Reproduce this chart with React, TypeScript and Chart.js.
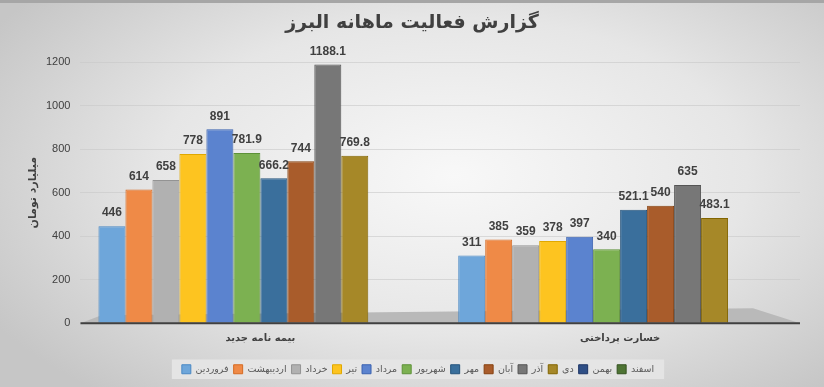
import React, { useEffect, useRef } from "react";
import { Chart, registerables } from "chart.js";

Chart.register(...registerables);

const TITLE = "گزارش فعالیت ماهانه البرز";
const Y_TITLE = "میلیارد تومان";
const categories = ["بیمه نامه جدید", "خسارت پرداختی"];
const months = ["فروردین", "اردیبهشت", "خرداد", "تیر", "مرداد", "شهریور", "مهر", "آبان", "آذر", "دی", "بهمن", "اسفند"];

const farvardin = [446, 311];
const ordibehesht = [614, 385];
const khordad = [658, 359];
const tir = [778, 378];
const mordad = [891, 397];
const shahrivar = [781.9, 340];
const mehr = [666.2, 521.1];
const aban = [744, 540];
const azar = [1188.1, 635];
const dey = [769.8, 483.1];
const bahman: (number | null)[] = [null, null];
const esfand: (number | null)[] = [null, null];

const seriesValues = [farvardin, ordibehesht, khordad, tir, mordad, shahrivar, mehr, aban, azar, dey, bahman, esfand];

const fills = ["#6ea6da", "#ef8a47", "#b1b1b1", "#fdc420", "#5b83cf", "#7cb151", "#3a6f9c", "#a95c2b", "#777777", "#a68828", "#2f4f86", "#4e7434"];
const borders = ["#4a88c4", "#d56a22", "#939393", "#e0a800", "#3a62b0", "#5d9138", "#24537c", "#86400f", "#555555", "#826500", "#1c3566", "#345220"];

const yTicks = [0, 200, 400, 600, 800, 1000, 1200];

const numFont = "'Liberation Sans Narrow', 'Liberation Sans', Arial, sans-serif";
const faFont = "'DejaVu Sans', 'Noto Sans', sans-serif";

export default function App() {
  const ref = useRef<HTMLCanvasElement | null>(null);
  useEffect(() => {
    document.body.style.margin = "0";
    const canvas = ref.current;
    if (!canvas) return;

    const decor = {
      id: "decor",
      beforeDatasetsDraw(chart: any) {
        const ctx = chart.ctx;
        const x0 = chart.scales.x.left;
        const x1 = chart.scales.x.right;
        const y0 = chart.scales.y.getPixelForValue(0);
        ctx.save();
        ctx.fillStyle = "#b9b9b9";
        ctx.beginPath();
        ctx.moveTo(x0, y0);
        ctx.lineTo(x1, y0);
        ctx.lineTo(x1 - 47, y0 - 15);
        ctx.lineTo(x0 + 21, y0 - 8);
        ctx.closePath();
        ctx.fill();
        ctx.restore();
      },
      afterDatasetsDraw(chart: any) {
        const ctx = chart.ctx;
        ctx.save();
        ctx.font = "bold 12px " + numFont;
        ctx.fillStyle = "#404040";
        ctx.textAlign = "center";
        ctx.textBaseline = "bottom";
        chart.data.datasets.forEach((ds: any, i: number) => {
          const meta = chart.getDatasetMeta(i);
          meta.data.forEach((el: any, j: number) => {
            const v = ds.data[j];
            if (v === null || v === undefined) return;
            ctx.fillText(String(v), el.x, el.y - 7);
          });
        });
        const y0 = chart.scales.y.getPixelForValue(0);
        ctx.strokeStyle = "#404040";
        ctx.lineWidth = 2;
        ctx.beginPath();
        ctx.moveTo(chart.scales.x.left, y0);
        ctx.lineTo(chart.scales.x.right, y0);
        ctx.stroke();
        // chart title
        ctx.font = "bold 19px " + faFont;
        ctx.fillStyle = "#404040";
        ctx.textBaseline = "middle";
        ctx.fillText(TITLE, chart.width / 2, 20);
        // y axis title
        const a = chart.chartArea;
        ctx.translate(33, (a.top + a.bottom) / 2);
        ctx.rotate(-Math.PI / 2);
        ctx.font = "bold 11px " + faFont;
        ctx.fillText(Y_TITLE, 0, 0);
        ctx.restore();
      },
      beforeDraw(chart: any) {
        const lg = chart.legend;
        if (!lg || !lg.legendHitBoxes || !lg.legendHitBoxes.length) return;
        const boxes = lg.legendHitBoxes;
        let l = Infinity, r = -Infinity, t = Infinity, b = -Infinity;
        boxes.forEach((h: any) => {
          l = Math.min(l, h.left);
          r = Math.max(r, h.left + h.width);
          t = Math.min(t, h.top);
          b = Math.max(b, h.top + h.height);
        });
        const ctx = chart.ctx;
        ctx.save();
        ctx.fillStyle = "rgba(230,230,230,0.9)";
        ctx.fillRect(l - 10, t - 5, r - l + 20, b - t + 10);
        ctx.restore();
      },
    };

    const chart = new Chart(canvas, {
      type: "bar",
      data: {
        labels: categories,
        datasets: months.map((m, i) => ({
          label: m,
          data: seriesValues[i],
          backgroundColor: fills[i],
          borderColor: borders[i],
          borderWidth: 1,
          categoryPercentage: 0.9,
          barPercentage: 1,
        })),
      },
      options: {
        animation: false,
        responsive: false,
        maintainAspectRatio: false,
        layout: { padding: { top: 59, right: 24, left: 36, bottom: 3 } },
        plugins: {
          title: { display: false },
          tooltip: { enabled: false },
          legend: {
            position: "bottom",
            title: { display: true, text: "", font: { size: 1 }, padding: { top: 5, bottom: 0 } },
            labels: {
              boxWidth: 9,
              boxHeight: 9,
              padding: 5,
              color: "#595959",
              font: { size: 9.5, family: faFont },
            },
          },
        },
        scales: {
          x: {
            grid: { display: false, drawTicks: false },
            border: { display: false },
            ticks: { color: "#404040", font: { size: 10, weight: "bold", family: faFont }, padding: 9 },
          },
          y: {
            min: 0,
            max: 1200,
            afterBuildTicks: (s: any) => {
              s.ticks = yTicks.map((v) => ({ value: v }));
            },
            grid: { color: "rgba(200,200,200,0.6)", drawTicks: false },
            border: { display: false },
            ticks: { color: "#404040", font: { size: 11, family: numFont }, padding: 10, callback: (v: any) => String(v) },
            title: { display: false },
          },
        },
      },
      plugins: [decor],
    });
    return () => chart.destroy();
  }, []);

  return (
    <div
      style={{
        width: 824,
        height: 387,
        position: "relative",
        boxSizing: "border-box",
        borderTop: "3px solid #a6a6a6",
        background: "radial-gradient(ellipse 65% 75% at 55% 45%, #f8f8f8 0%, #e6e6e6 55%, #c6c6c6 100%)",
      }}
    >
      <canvas ref={ref} width={824} height={384} style={{ display: "block" }} />
    </div>
  );
}
